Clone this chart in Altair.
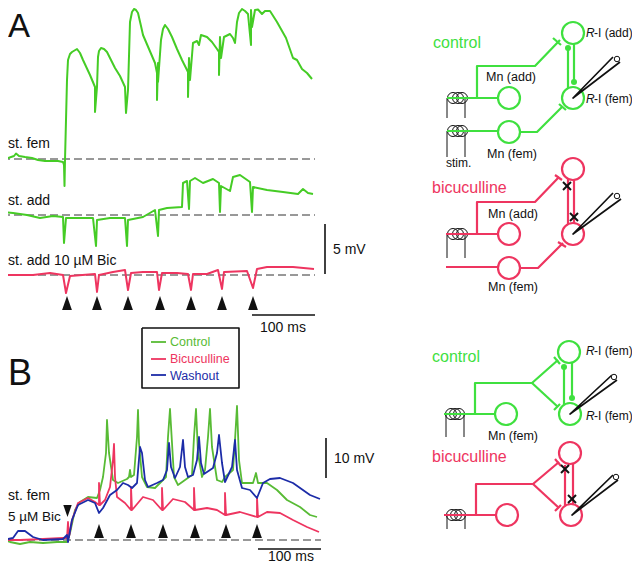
import altair as alt
import pandas as pd

GREEN_A = "#45cc25"; GREEN_B = "#58bb35"; GREEN_D = "#3fe03f"
RED = "#ee3560"; BLUE = "#1c2ca8"; BLACK = "#111111"; GREY = "#333333"

# --- traces (x, y) ---
A_fem = [(1,159),(8,158),(14,156),(16,153.5),(19,156),(25,157),(32,158),(38,160),(45,161),(52,161),(58,161),(63,162),(64,165),(64.5,186),(65,160),(66,120),(67,80),(68,60),(70,54),(72,52),(77,49),(80,53),(83,60),(90,75),(95,87),(95,112),(97,87),(98,57),(99,51),(101,48),(104,49),(107,52),(115,68),(120,76),(125,87),(126,113),(128,90),(130,22),(132,12),(134,9),(136,10),(138,13),(141,26),(143,35),(149,49),(155,63),(157,73),(157,100),(158,63),(158,82),(161,40),(163,29),(165,25),(168,29),(172,37),(177,49),(182,60),(188,72),(188,97),(189,58),(190,80),(193,43),(197,41),(199,45),(201,35),(207,37),(212,42),(217,49),(219,52),(219,75),(220,37),(221,58),(224,37),(230,34),(233,38),(235,43),(237,22),(239,13),(242,9),(245,11),(248,14),(251,45),(251,10),(252,27),(255,10),(258,9.5),(262,14),(265,11),(270,11),(277,22),(286,38),(293,58),(297,60),(302,69),(307,73),(312,79)]
A_add = [(1,212),(13,213),(27,215),(40,218),(53,216),(63,217),(64,243),(66,218),(80,218),(93,218),(96,246),(97,220),(110,218),(125,218),(127,246),(128,220),(143,217),(155,210),(158,236),(159,210),(167,208),(182,207),(183,183),(187,181),(189,209),(190,181),(195,178),(203,183),(213,179),(219,183),(220,212),(221,186),(230,191),(233,177),(240,175),(250,182),(252,212),(253,187),(267,190),(283,192),(298,194),(303,189),(308,193),(313,194)]
A_bic = [(3,275),(33,275),(50,273),(63,275),(66,293),(70,276),(95,274),(97,292),(99,275),(113,272),(125,270),(128,290),(131,273),(143,272),(157,272),(159,290),(162,273),(177,273),(188,274),(191,290),(193,274),(207,274),(218,270),(222,289),(224,272),(247,271),(253,288),(257,269),(267,267),(293,267),(314,269)]
B_con = [(3,540),(10,542),(20,544),(30,542),(43,543),(57,542),(67,542),(70,533),(75,510),(80,502),(88,497),(97,498),(100,490),(103,477),(106,453),(107,420),(109,453),(113,480),(118,483),(127,479),(129,477),(130,470),(131,477),(134,475),(137,437),(138,410),(139,443),(142,477),(147,487),(155,488),(160,483),(166,477),(168,437),(170,409),(172,443),(174,477),(178,485),(185,480),(192,475),(194,437),(196,409),(198,453),(202,477),(205,470),(208,437),(210,409),(212,447),(217,480),(222,482),(225,477),(233,470),(235,440),(237,406),(239,460),(242,483),(253,483),(256,473),(258,483),(267,483),(277,490),(287,500),(300,507),(310,515),(317,517)]
B_bic = [(3,540),(20,540),(43,539),(63,538),(67,538),(68,522),(69,537),(72,520),(78,503),(88,498),(95,502),(99,505),(99,483),(100,505),(105,500),(110,487),(113,460),(114,444),(115,477),(117,497),(125,503),(131,510),(131,487),(132,510),(143,497),(153,500),(162,510),(162,488),(163,510),(173,499),(185,502),(194,510),(194,488),(195,510),(207,508),(217,510),(225,515),(225,493),(226,515),(240,512),(257,517),(257,497),(258,517),(267,512),(280,513),(293,520),(307,527),(319,532)]
B_was = [(3,540),(13,538),(18,531),(25,531),(33,537),(43,540),(63,539),(67,535),(68,542),(72,520),(78,505),(88,500),(95,503),(99,513),(103,508),(110,495),(117,490),(123,483),(128,485),(132,488),(137,483),(140,447),(142,453),(145,480),(148,487),(157,483),(163,480),(167,470),(169,443),(171,467),(175,478),(180,467),(183,440),(185,467),(188,477),(193,475),(197,460),(199,437),(201,463),(204,474),(213,468),(217,453),(219,435),(222,463),(225,482),(232,467),(235,440),(237,470),(242,488),(250,490),(257,498),(263,483),(270,479),(280,478),(293,483),(310,495),(320,499)]

dash_lines = [[(2,159),(315,159)],[(2,215),(315,215)],[(2,275),(315,275)],[(3,540),(321,540)]]
scale_bars = [[(325,224),(325,274)],[(252,315),(315,315)],[(326,438),(326,478)],[(258,549),(321,549)]]
box = [[(142,328),(239,328),(239,388),(142,388),(142,328)]]
legend_lines = [("Control",GREEN_B,[(151,342),(166,342)]),("Bicuculline",RED,[(151,359),(166,359)]),("Washout",BLUE,[(151,375),(166,375)])]
tri_up = [(67,303),(97,303),(128,303),(160,303),(191,303),(222,303),(253,303),(99,531),(131,531),(163,531),(195,531),(226,531),(257,531)]
tri_down = [(67.5,511)]

# --- circuit diagrams ---
green_wires = [
 [(447,98),(498,98)],[(477,98),(477,66),(535,66),(560,40)],[(447,131),(498,131)],[(519,132),(537,132),(562,107)],
 [(553,38),(561,45)],[(559,104),(566,110)],[(568,47),(568,90)],[(574,43),(574,83)],
 [(444,414),(495,414)],[(475,414),(475,383),(532,383),(558,360)],[(532,383),(558,407)],
 [(554,357),(560,364)],[(554,410),(560,404)],[(564,367),(564,405)],[(572,362),(572,398)],
]
red_wires = [
 [(446,234),(498,234)],[(477,234),(477,202),(535,202),(559,177)],[(446,267),(498,267)],[(520,268),(538,268),(563,243)],
 [(555,175),(562,180)],[(558,242),(566,247)],[(568,177),(568,225)],[(574,178),(574,225)],
 [(444,515),(496,515)],[(476,515),(476,484),(533,484),(559,462)],[(533,484),(559,508)],
 [(555,459),(561,466)],[(555,511),(561,505)],[(565,465),(565,505)],[(573,463),(573,505)],
]
green_cells = [(573,33),(573,98),(509,98),(509,132),(569,352),(570,414),(506,414)]
red_cells = [(573,169),(573,234),(509,234),(509,268),(570,453),(571,515),(507,515)]
green_dots = [(568,48),(574,82),(564,367),(572,398)]
coils = [(453,98),(458,98),(462,98),(453,131),(458,131),(462,131),(453,234),(458,234),(462,234),(451,414),(455,414),(459,414),(452,515),(456,515),(460,515)]
legs = [[(447,98),(447,118)],[(465,98),(465,118)],[(447,131),(447,157)],[(465,131),(465,157)],[(447,234),(447,258)],[(465,234),(465,258)],[(446,414),(446,437)],[(464,414),(464,437)],[(447,515),(447,529)],[(465,515),(465,529)]]
pipettes = [[(613,57),(573,98),(620,62)],[(613,193),(573,234),(621,199)],[(612,375),(570,414),(617,380)],[(613,475),(572,515),(618,480)]]
pipette_heads = [(617,59),(617,196),(614,377),(616,477)]
crosses = [[(563,182),(571,190)],[(571,182),(563,190)],[(570,213),(578,221)],[(578,213),(570,221)],[(561,465),(569,473)],[(569,465),(561,473)],[(568,495),(576,503)],[(576,495),(568,503)]]

# text, x, y, size, colour, italic
labels = [
 ("A",8,37,33,BLACK,False),("B",8,385,36,BLACK,False),
 ("st. fem",8,148,14,BLACK,False),("st. add",8,205,14,BLACK,False),("st. add  10 \u00b5M Bic",8,265,14,BLACK,False),
 ("st. fem",8,500,14,BLACK,False),("5 \u00b5M Bic",8,521,13.5,BLACK,False),
 ("5 mV",333,254,14,BLACK,False),("100 ms",260,332,14,BLACK,False),("10 mV",334,463,14,BLACK,False),("100 ms",268,560.5,14,BLACK,False),
 ("Control",170,346,12.5,GREEN_B,False),("Bicuculline",170,363,12.5,RED,False),("Washout",170,380,12.5,BLUE,False),
 ("control",433,48,16,GREEN_D,False),("bicuculline",432,193,16,RED,False),("control",432,362,16,GREEN_D,False),("bicuculline",432,462,16,RED,False),
 ("Mn (add)",486,81,12.5,BLACK,False),("Mn (fem)",487,158,12.5,BLACK,False),("stim.",446,167,12,BLACK,False),
 ("Mn (add)",488,218,12.5,BLACK,False),("Mn (fem)",488,291,12.5,BLACK,False),("Mn (fem)",488,440,12.5,BLACK,False),
 ("R",586,37,12,BLACK,True),("-I (add)",594,37,12,BLACK,False),("R",586,103,12,BLACK,True),("-I (fem)",594,103,12,BLACK,False),
 ("R",586,355,12,BLACK,True),("-I (fem)",594,355,12,BLACK,False),("R",586,420,12,BLACK,True),("-I (fem)",594,420,12,BLACK,False),
]

X = alt.X("x:Q", scale=alt.Scale(domain=[8, 632], range=[0, 624]), axis=None)
Y = alt.Y("y:Q", scale=alt.Scale(domain=[8, 564], range=[0, 556]), axis=None)


def paths(plist, color, width, dash=None):
    rows = [{"g": g, "i": i, "x": p[0], "y": p[1]} for g, pl in enumerate(plist) for i, p in enumerate(pl)]
    kw = {"strokeDash": dash} if dash else {}
    return alt.Chart(pd.DataFrame(rows)).mark_line(color=color, strokeWidth=width, strokeJoin="round", **kw).encode(
        x=X, y=Y, detail="g:N", order="i:Q")


def points(pts, **mark):
    df = pd.DataFrame(pts, columns=["x", "y"])
    return alt.Chart(df).mark_point(opacity=1, **mark).encode(x=X, y=Y)


def texts():
    out = []
    for t, x, y, s, c, it in labels:
        df = pd.DataFrame([{"t": t, "x": x, "y": y}])
        out.append(alt.Chart(df).mark_text(align="left", baseline="alphabetic", font="Liberation Sans", fontSize=s,
                                           color=c, fontStyle="italic" if it else "normal").encode(x=X, y=Y, text="t:N"))
    return out


UP = "M-0.7,1L0,-1L0.7,1Z"
DOWN = "M-0.7,-1L0,1L0.7,-1Z"

layers = [
    paths(dash_lines, GREY, 1, [8, 4]),
    paths([A_fem, A_add], GREEN_A, 2),
    paths([A_bic], RED, 2),
    paths([B_con], GREEN_B, 1.8),
    paths([B_bic], RED, 1.8),
    paths([B_was], BLUE, 1.8),
    paths(scale_bars, BLACK, 1.6),
    paths(box, BLACK, 1.6),
]
layers += [paths([l], c, 1.8) for _, c, l in legend_lines]
layers += [
    points(tri_up, shape=UP, filled=True, color=BLACK, size=196),
    points(tri_down, shape=DOWN, filled=True, color=BLACK, size=144),
    paths(legs, BLACK, 1),
    points(coils, shape="circle", filled=False, color=BLACK, size=121, strokeWidth=1),
    paths(green_wires, GREEN_D, 2.2),
    paths(red_wires, RED, 2.2),
    points(green_cells, shape="circle", filled=False, fill="white", color=GREEN_D, size=484, strokeWidth=2.2),
    points(red_cells, shape="circle", filled=False, fill="white", color=RED, size=484, strokeWidth=2.2),
    points(green_dots, shape="circle", filled=True, color=GREEN_D, size=36),
    paths(pipettes, BLACK, 1.7),
    points(pipette_heads, shape="circle", filled=False, fill="white", color=BLACK, size=30, strokeWidth=1),
    paths(crosses, BLACK, 2),
]
layers += texts()

chart = alt.layer(*layers).properties(width=624, height=556, padding=0, autosize="none").configure_view(stroke=None)
chart.save("out.html", embed_options={"renderer": "svg", "actions": False})
